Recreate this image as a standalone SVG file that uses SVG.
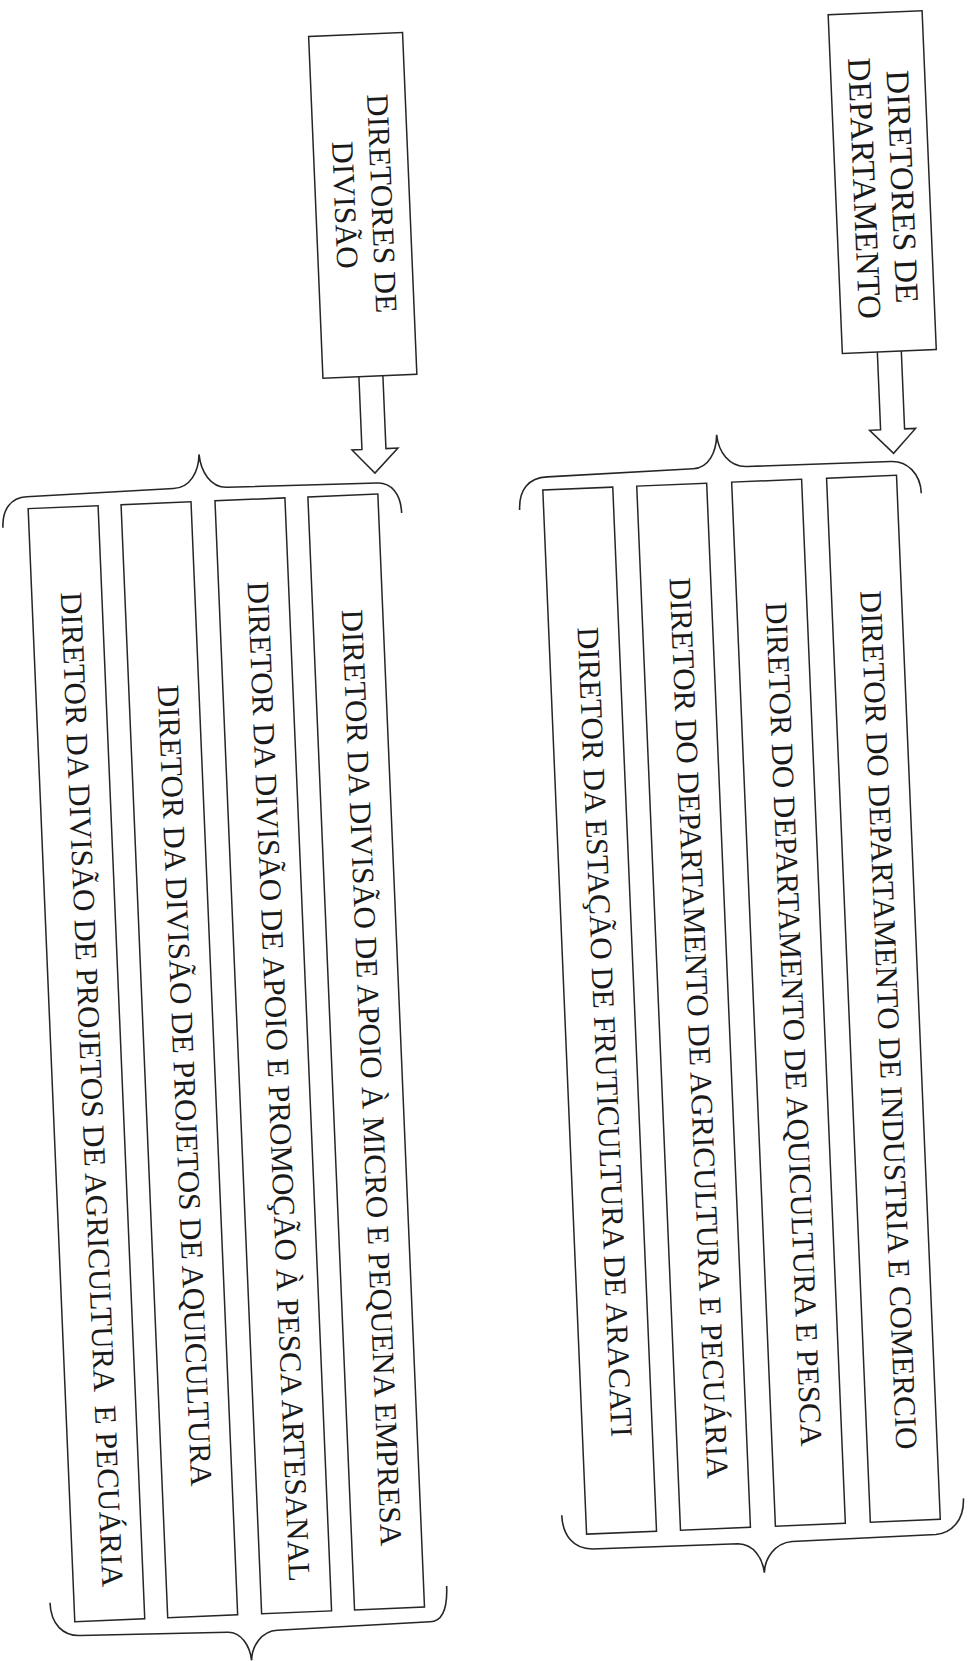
<svg xmlns="http://www.w3.org/2000/svg" width="968" height="1661" viewBox="0 0 968 1661">
<style>
.box{fill:#fff;stroke:#262626;stroke-width:1.5}
.t{font-family:"Liberation Serif","Times New Roman",serif;font-size:31px;fill:#1a1a1a;text-anchor:middle;white-space:pre}
.h2{font-size:33px}
.br{fill:none;stroke:#262626;stroke-width:1.6}
.ar{fill:#fff;stroke:#262626;stroke-width:1.5}
</style>
<rect width="968" height="1661" fill="#fff"/>
<g transform="rotate(-2.4 480 830)">
 <g id="connectors">
  <polyline class="ar" points="378,372 378,445 368,445 390,469 414,445 402,445 402,372"/>
  <polyline class="ar" points="897,369 897,447 886,447 909,471 932,447 921,447 921,369"/>
  <path class="br" d="M16,508 C16,490 25,478 41,478 L188,476 C205,476 214,460 215,443 C216,460 225,477 242,477 L392,479 C405,479 415,490 415,510"/>
  <path class="br" d="M18,1584 C18,1606 30,1618 47,1618 L194,1621 C208,1621 216,1636 217,1650 C218,1636 228,1621 244,1621 L397,1619 C410,1619 415,1605 415,1584"/>
  <path class="br" d="M533,512 C533,492 543,480 562,480 L708,478 C724,478 732,462 733,445 C734,462 744,478 762,478 L906,479 C922,479 935,492 935,512"/>
  <path class="br" d="M533,1518 C533,1538 543,1552 562,1553 L708,1554 C724,1555 732,1570 733,1584 C734,1570 744,1555 762,1554 L906,1553 C922,1552 935,1540 935,1518"/>
 </g>
 <g id="diretores-divisao">
  <rect class="box" x="342" y="30" width="94" height="342"/>
  <text class="t" transform="translate(398,200) rotate(90)">DIRETORES DE</text>
  <text class="t" transform="translate(361,200) rotate(90)">DIVISÃO</text>
 </g>
 <g id="diretores-departamento">
  <rect class="box" x="862" y="30" width="94" height="339"/>
  <text class="t h2" transform="translate(918,205) rotate(90)">DIRETORES DE</text>
  <text class="t h2" transform="translate(880,205) rotate(90)">DEPARTAMENTO</text>
 </g>
 <g id="div-agricultura">
  <rect class="box" x="42" y="490" width="70" height="1114"/>
  <text class="t" transform="translate(71,1073) rotate(90)">DIRETOR DA DIVISÃO DE PROJETOS DE AGRICULTURA  E PECUÁRIA</text>
 </g>
 <g id="div-aquicultura">
  <rect class="box" x="135" y="490" width="70" height="1114"/>
  <text class="t" transform="translate(164,1073) rotate(90)">DIRETOR DA DIVISÃO DE PROJETOS DE AQUICULTURA</text>
 </g>
 <g id="div-pesca">
  <rect class="box" x="229" y="490" width="70" height="1114"/>
  <text class="t" transform="translate(258,1073) rotate(90)">DIRETOR DA DIVISÃO DE APOIO E PROMOÇÃO À PESCA ARTESANAL</text>
 </g>
 <g id="div-micro">
  <rect class="box" x="322" y="490" width="70" height="1114"/>
  <text class="t" transform="translate(351,1073) rotate(90)">DIRETOR DA DIVISÃO DE APOIO À MICRO E PEQUENA EMPRESA</text>
 </g>
 <g id="est-fruticultura">
  <rect class="box" x="557" y="493" width="70" height="1045"/>
  <text class="t" transform="translate(586,1037) rotate(90)">DIRETOR DA ESTAÇÃO DE FRUTICULTURA DE ARACATI</text>
 </g>
 <g id="dep-agricultura">
  <rect class="box" x="651" y="493" width="70" height="1045"/>
  <text class="t" transform="translate(680,1037) rotate(90)">DIRETOR DO DEPARTAMENTO DE AGRICULTURA E PECUÁRIA</text>
 </g>
 <g id="dep-aquicultura">
  <rect class="box" x="746" y="493" width="70" height="1045"/>
  <text class="t" transform="translate(775,1037) rotate(90)">DIRETOR DO DEPARTAMENTO DE AQUICULTURA E PESCA</text>
 </g>
 <g id="dep-industria">
  <rect class="box" x="841" y="493" width="70" height="1045"/>
  <text class="t" transform="translate(870,1037) rotate(90)">DIRETOR DO DEPARTAMENTO DE INDUSTRIA E COMERCIO</text>
 </g>
</g>
</svg>
